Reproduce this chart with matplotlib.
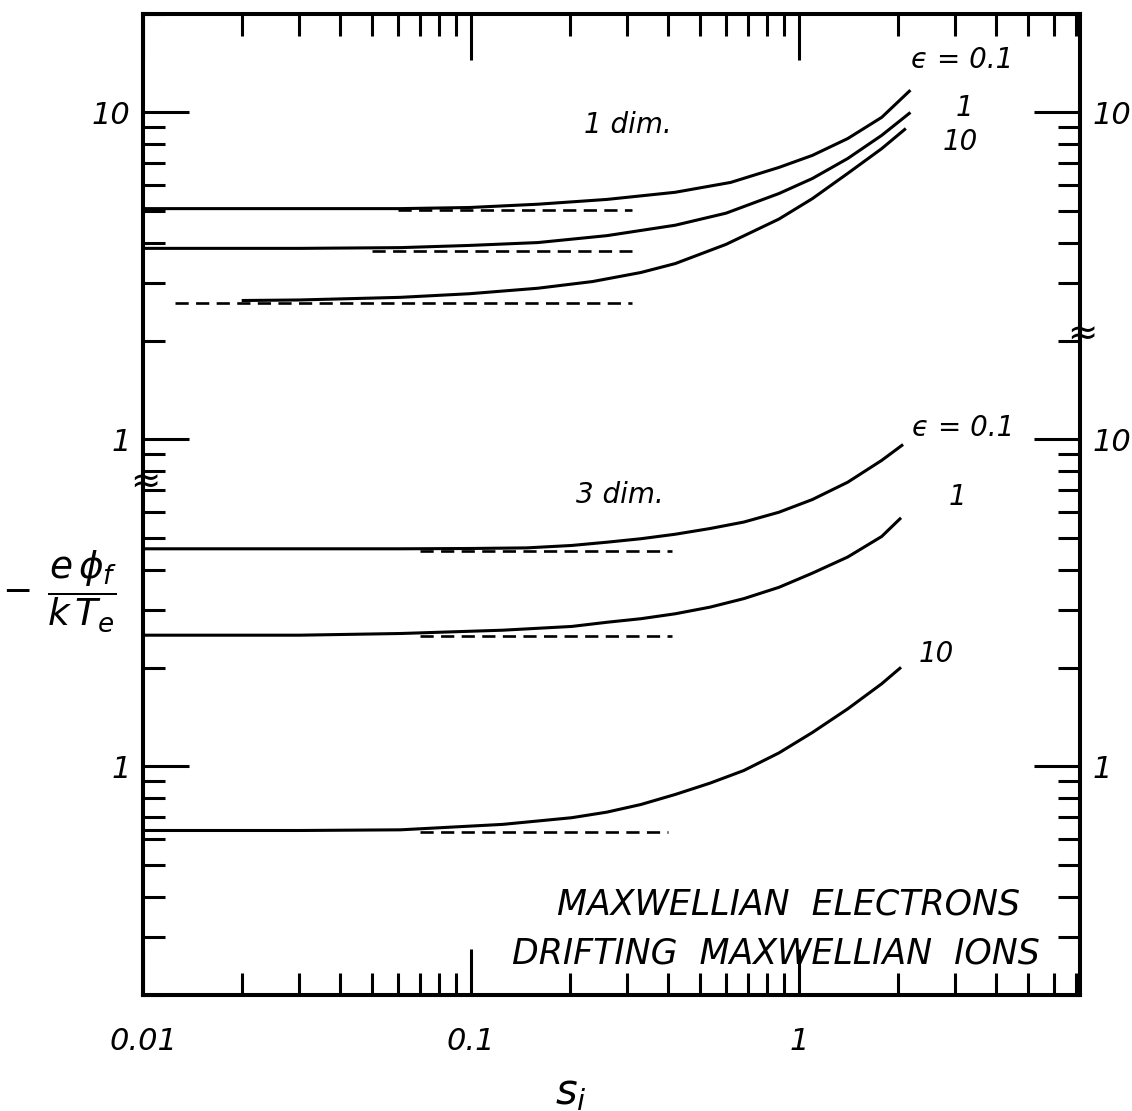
import numpy as np
import matplotlib.pyplot as plt
from matplotlib.ticker import LogLocator, NullFormatter, FixedLocator

plt.rcParams['font.family'] = 'DejaVu Sans'
plt.rcParams['font.style'] = 'italic'
plt.rcParams['mathtext.fontset'] = 'dejavusans'

# 1-dim curves (values in the 1-dim units, upper scale)
s_1d_eps01 = [0.01, 0.03, 0.061, 0.099, 0.16, 0.26, 0.42, 0.62, 0.87, 1.1, 1.41, 1.79, 2.19]
phi_1d_eps01 = [5.08, 5.08, 5.08, 5.12, 5.24, 5.42, 5.70, 6.11, 6.79, 7.39, 8.32, 9.66, 11.7]

s_1d_eps1 = [0.01, 0.03, 0.061, 0.099, 0.16, 0.26, 0.42, 0.6, 0.87, 1.1, 1.41, 1.79, 2.19]
phi_1d_eps1 = [3.84, 3.84, 3.86, 3.92, 4.00, 4.20, 4.52, 4.92, 5.65, 6.28, 7.23, 8.51, 10.0]

s_1d_eps10 = [0.02, 0.03, 0.061, 0.099, 0.16, 0.235, 0.33, 0.42, 0.6, 0.87, 1.1, 1.41, 1.79, 2.12]
phi_1d_eps10 = [2.66, 2.67, 2.72, 2.79, 2.90, 3.04, 3.24, 3.45, 3.95, 4.72, 5.45, 6.51, 7.75, 8.93]

# 3-dim curves (values in the 3-dim units, lower scale)
s_3d_eps01 = [0.01, 0.03, 0.061, 0.099, 0.148, 0.203, 0.26, 0.33, 0.42, 0.536, 0.68, 0.87, 1.1, 1.41, 1.79, 2.08]
phi_3d_eps01 = [4.63, 4.63, 4.63, 4.64, 4.66, 4.74, 4.85, 4.97, 5.13, 5.34, 5.59, 5.99, 6.55, 7.40, 8.63, 9.65]

s_3d_eps1 = [0.01, 0.03, 0.061, 0.125, 0.203, 0.26, 0.33, 0.42, 0.536, 0.68, 0.87, 1.1, 1.41, 1.79, 2.05]
phi_3d_eps1 = [2.52, 2.52, 2.55, 2.61, 2.68, 2.76, 2.83, 2.93, 3.07, 3.26, 3.53, 3.90, 4.37, 5.05, 5.76]

s_3d_eps10 = [0.01, 0.03, 0.061, 0.125, 0.203, 0.26, 0.33, 0.42, 0.536, 0.68, 0.87, 1.1, 1.41, 1.79, 2.05]
phi_3d_eps10 = [0.637, 0.637, 0.640, 0.665, 0.697, 0.725, 0.765, 0.821, 0.889, 0.972, 1.10, 1.27, 1.50, 1.79, 2.01]

# small-s asymptotes (dashed)
asym_1d = [5.02, 3.78, 2.62]
asym_1d_start = [0.06, 0.05, 0.0125]
asym_1d_end = [0.31, 0.31, 0.31]
asym_3d = [4.57, 2.50, 0.632]
asym_3d_start = [0.07, 0.07, 0.07]
asym_3d_end = [0.41, 0.41, 0.40]

# the 1-dim family is drawn one decade higher on the shared log axis
DIM1_SHIFT = 10.0

fig = plt.figure(figsize=(11.32, 11.11), dpi=100)
ax = fig.add_axes([0.1263, 0.1044, 0.8277, 0.883])

lw = 2.2
for s, phi in [(s_1d_eps01, phi_1d_eps01), (s_1d_eps1, phi_1d_eps1), (s_1d_eps10, phi_1d_eps10)]:
    ax.plot(s, np.array(phi) * DIM1_SHIFT, color='black', lw=lw, solid_capstyle='butt',
            solid_joinstyle='round')
for s, phi in [(s_3d_eps01, phi_3d_eps01), (s_3d_eps1, phi_3d_eps1), (s_3d_eps10, phi_3d_eps10)]:
    ax.plot(s, phi, color='black', lw=lw, solid_capstyle='butt', solid_joinstyle='round')

for a, x0, x1 in zip(asym_1d, asym_1d_start, asym_1d_end):
    ax.plot([x0, x1], [a * DIM1_SHIFT] * 2, color='black', lw=1.9, dashes=(5, 2.8))
for a, x0, x1 in zip(asym_3d, asym_3d_start, asym_3d_end):
    ax.plot([x0, x1], [a, a], color='black', lw=1.9, dashes=(5, 2.8))

ax.set_xscale('log')
ax.set_yscale('log')
ax.set_xlim(0.01, 7.2)
ax.set_ylim(0.2, 200)

ax.xaxis.set_major_locator(FixedLocator([0.01, 0.1, 1]))
ax.set_xticklabels(['0.01', '0.1', '1'])
ax.xaxis.set_minor_locator(LogLocator(base=10, subs=range(2, 10), numticks=20))
ax.xaxis.set_minor_formatter(NullFormatter())

ax.yaxis.set_major_locator(FixedLocator([1, 10, 100]))
ax.set_yticklabels(['1', '1', '10'])
ax.yaxis.set_minor_locator(LogLocator(base=10, subs=range(2, 10), numticks=20))
ax.yaxis.set_minor_formatter(NullFormatter())

ax.tick_params(which='both', direction='in', top=True, bottom=True, left=True, right=False,
               width=2.2, labelsize=22)
ax.tick_params(which='major', length=33)
ax.tick_params(which='minor', length=16)
ax.tick_params(axis='x', pad=23)
ax.tick_params(axis='y', pad=9)

ax2 = ax.twinx()
ax2.set_yscale('log')
ax2.set_ylim(ax.get_ylim())
ax2.yaxis.set_major_locator(FixedLocator([1, 10, 100]))
ax2.set_yticklabels(['1', '10', '10'])
ax2.yaxis.set_minor_locator(LogLocator(base=10, subs=range(2, 10), numticks=20))
ax2.yaxis.set_minor_formatter(NullFormatter())
ax2.tick_params(which='both', direction='in', width=2.2, labelsize=22, pad=9)
ax2.tick_params(which='major', length=33)
ax2.tick_params(which='minor', length=16)

for a in (ax, ax2):
    for sp in a.spines.values():
        sp.set_linewidth(2.9)

# curve labels
txt = dict(transform=ax.transAxes, ha='center', va='center', style='italic')
ax.text(0.874, 0.953, '\u03f5 = 0.1', fontsize=20, **txt)
ax.text(0.877, 0.904, '1', fontsize=20, **txt)
ax.text(0.872, 0.870, '10', fontsize=20, **txt)
ax.text(0.517, 0.887, '1 dim.', fontsize=20, **txt)
ax.text(0.509, 0.510, '3 dim.', fontsize=20, **txt)
ax.text(0.875, 0.578, '\u03f5 = 0.1', fontsize=20, **txt)
ax.text(0.869, 0.508, '1', fontsize=20, **txt)
ax.text(0.847, 0.348, '10', fontsize=20, **txt)

ax.text(0.936, 0.092, 'MAXWELLIAN  ELECTRONS', fontsize=25, transform=ax.transAxes,
        ha='right', va='center', style='italic')
ax.text(0.957, 0.042, 'DRIFTING  MAXWELLIAN  IONS', fontsize=25, transform=ax.transAxes,
        ha='right', va='center', style='italic')

# axis breaks
ax.text(0.002, 0.522, '\u2248', fontsize=26, transform=ax.transAxes, ha='center', va='center',
        style='normal', clip_on=False)
ax.text(1.002, 0.673, '\u2248', fontsize=26, transform=ax.transAxes, ha='center', va='center',
        style='normal', clip_on=False)

# axis labels
fig.text(0.5045, 0.017, r'$s_i$', fontsize=30, ha='center', va='center')
fig.text(0.015, 0.467, '\u2212', fontsize=26, ha='center', va='center', style='normal')
fig.text(0.073, 0.468, r'$\dfrac{e\,\phi_f}{k\,T_e}$', fontsize=27, ha='center', va='center')

fig.savefig('out.png', dpi=100)
